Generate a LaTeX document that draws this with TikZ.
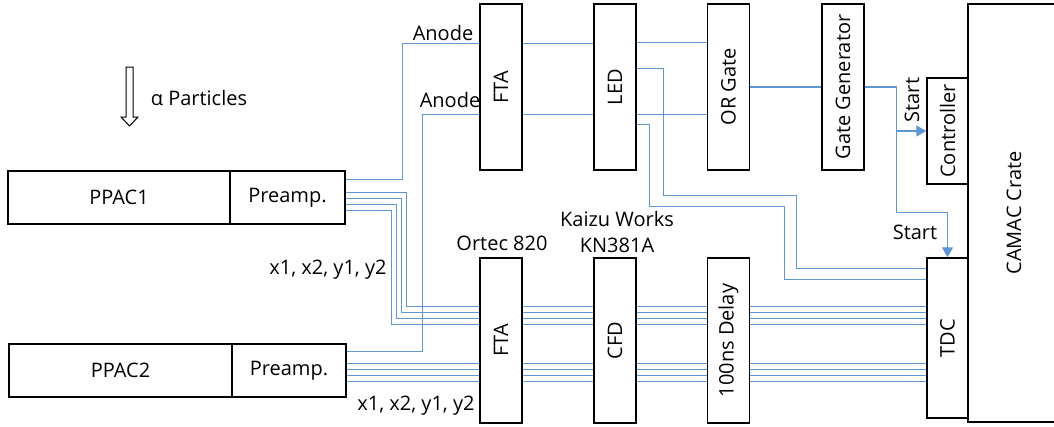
\documentclass[tikz,border=0pt]{standalone}
\usepackage{fontspec}
\setmainfont{Open Sans}
\usetikzlibrary{calc,arrows.meta,backgrounds}
\definecolor{wireblue}{RGB}{95,150,212}

\begin{document}
\begin{tikzpicture}[
    x=1pt, y=-1pt,
    >={Triangle[length=10pt,width=11pt]},
    every node/.style={font=\fontsize{20}{24}\selectfont},
    box/.style={
        draw,
        line width=1.4pt,
        fill=white,
        inner sep=0pt
    },
    rack/.style={
        box,
        minimum width=42pt,
        minimum height=166pt
    },
    wire/.style={draw=wireblue, line width=1.1pt},
    arr/.style={wire, ->}
]

    \useasboundingbox (0,0) rectangle (1054,426);

    % detectors
    \node[box, minimum width=222pt, minimum height=53pt] (ppac1) at (119,197.5) {PPAC1};
    \node[box, minimum width=115pt, minimum height=53pt] (pre1) at (287.5,197.5) {Preamp.};
    \node[box, minimum width=223pt, minimum height=53pt] (ppac2) at (120.5,370.5) {PPAC2};
    \node[box, minimum width=114pt, minimum height=53pt] (pre2) at (289,370.5) {Preamp.};

    % incoming particles
    \draw[line width=1pt] (126,67) -- (133,67) -- (133,117) -- (138,117)
        -- (129.5,126) -- (121,117) -- (126,117) -- cycle;
    \node (alpha) at (199,98) {α Particles};

    % timing branch
    \node[rack] (fta1) at (501,87) {\rotatebox{90}{FTA}};
    \node[rack] (led) at (615,87) {\rotatebox{90}{LED}};
    \node[rack] (orgate) at (728.5,87) {\rotatebox{90}{OR Gate}};
    \node[rack] (gategen) at (843,87) {\rotatebox{90}{Gate Generator}};

    % position branch
    \node[rack, minimum height=165pt] (fta2) at (501,340.5) {\rotatebox{90}{FTA}};
    \node[rack, minimum height=165pt] (cfd) at (615,340.5) {\rotatebox{90}{CFD}};
    \node[rack, minimum height=165pt] (delay) at (728.5,340.5) {\rotatebox{90}{100ns Delay}};

    % CAMAC
    \node[box, minimum width=92pt, minimum height=418pt] (camac) at (1014,213) {\rotatebox{90}{CAMAC Crate}};
    \node[box, minimum width=41pt, minimum height=106pt] (ctrl) at (947.5,131) {\rotatebox{90}{Controller}};
    \node[box, minimum width=41pt, minimum height=160pt] (tdc) at (947.5,338) {\rotatebox{90}{TDC}};

    % labels
    \node (anode1) at (443,33) {Anode};
    \node (anode2) at (450,100) {Anode};
    \node (xy1) at (328,270) {x1, x2, y1, y2};
    \node (xy2) at (416,406) {x1, x2, y1, y2};
    \node (ortec) at (502,243) {Ortec 820};
    \node (kaizu) at (617,219) {Kaizu Works};
    \node (kn) at (617,245) {KN381A};
    \node (start1) at (912,100) {\rotatebox{90}{Start}};
    \node (start2) at (915,232) {Start};

    \begin{pgfonlayer}{background}
        % anode signals
        \draw[wire] ($(pre1.north east)+(0,9.5)$) -- ++(57,0) |- ($(fta1.north west)+(0,40.5)$);
        \draw[wire] ($(pre2.north east)+(0,8.5)$) -- ++(76,0) |- ($(fta1.north west)+(0,111.5)$);
        \draw[wire] ($(fta1.north east)+(0,40.5)$) -- ($(led.north west)+(0,40.5)$);
        \draw[wire] ($(fta1.north east)+(0,111.5)$) -- ($(led.north west)+(0,111.5)$);
        \draw[wire] ($(led.north east)+(0,39.5)$) -- ($(orgate.north west)+(0,39.5)$);
        \draw[wire] ($(led.north east)+(0,111.5)$) -- ($(orgate.north west)+(0,111.5)$);
        \draw[wire] ($(led.north east)+(0,65.5)$) -- ++(27,0) -- ++(0,127) -- ++(133,0)
            |- ($(tdc.north west)+(0,11.5)$);
        \draw[wire] ($(led.north east)+(0,121.5)$) -- ++(13,0) -- ++(0,82) -- ++(135,0)
            |- ($(tdc.north west)+(0,22.5)$);
        \draw[wire] (orgate.east) -- (gategen.west);

        % start
        \draw[arr] (gategen.east) -- ++(32,0) coordinate (split) |- (ctrl.west);
        \draw[arr] (split) -- ++(0,125.5) -| (tdc.north);

        % x1, x2, y1, y2
        \foreach \i in {0,...,3} {
            \draw[wire] ($(pre1.north east)+(0,22.5+6*\i)$) -- ++({61-5*\i},0)
                |- ($(tdc.north west)+(0,49.5+6*\i)$);
            \draw[wire] ($(pre2.north east)+(0,20.5+6*\i)$) coordinate (s) -- (s -| tdc.west);
        }
    \end{pgfonlayer}

\end{tikzpicture}
\end{document}
